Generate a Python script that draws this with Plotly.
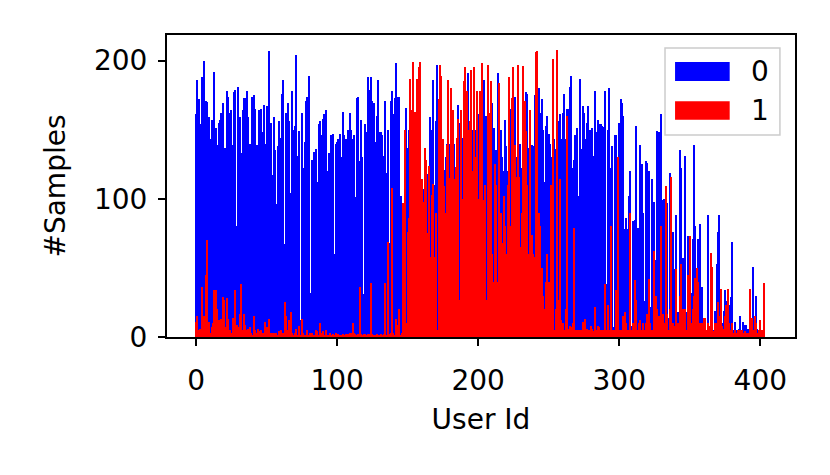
import plotly.graph_objects as go

# samples per user, label 0 (blue) and label 1 (red)
user_ids = list(range(404))

samples_0 = [
    161, 186, 172, 154, 188, 185, 200, 171, 170, 159,  # 0
    143, 157, 148, 192, 151, 139, 155, 157, 162, 169,
    137, 137, 178, 174, 162, 164, 139, 177, 179, 80,
    181, 159, 133, 164, 173, 173, 178, 159, 140, 43,
    174, 175, 165, 139, 93, 164, 165, 148, 168,
    140, 167, 146, 207, 155, 117, 159, 135, 96, 138,  # 49
    156, 144, 176, 186, 67, 162, 169, 156, 104, 178,
    150, 153, 204, 131, 149, 12, 162, 122, 141, 171,
    174, 189, 32, 128, 104, 134, 136, 112, 154, 156,
    146, 158, 161, 164, 120, 133, 26, 146, 147, 60, 140,
    141, 143, 147, 130, 163, 146, 143, 136, 150, 162,  # 100
    150, 143, 146, 101, 173, 174, 127, 157, 130, 31,
    154, 148, 188, 179, 188, 171, 169, 141, 160, 186,
    148, 148, 146, 131, 171, 119, 150, 68, 171, 178,
    161, 173, 198, 174, 174, 102, 97, 97, 150, 166, 137,
    150, 127, 140, 130, 120, 148, 120, 130, 110, 100,  # 151
    107, 120, 125, 118, 100, 159, 150, 186, 110, 156,
    197, 130, 168, 120, 110, 121, 130, 140, 157, 140,
    150, 160, 140, 93, 104, 168, 155, 140, 144, 150,
    175, 161, 191, 140, 130, 150, 140, 150, 160, 161, 150,
    140, 150, 186, 160, 160, 150, 140, 150, 169, 151,  # 202
    135, 135, 191, 150, 150, 130, 120, 157, 138, 120,
    140, 165, 150, 140, 174, 130, 150, 140, 140, 122,
    150, 150, 177, 176, 137, 150, 139, 138, 175, 150,
    140, 180, 162, 172, 150, 112, 153, 160, 147, 140, 130,
    150, 143, 136, 130, 156, 161, 143, 162, 176, 143,  # 253
    165, 165, 181, 189, 122, 128, 146, 151, 102, 187,
    136, 167, 162, 143, 155, 167, 150, 137, 151, 131,
    178, 148, 157, 154, 154, 153, 152, 178, 38, 150, 180,
    122, 138, 7, 146, 146, 100, 155, 172, 169, 160,
    78, 86, 78, 102, 120, 8, 84, 85, 153, 79,  # 304
    67, 139, 125, 90, 26, 127, 126, 120, 22, 114,
    40, 98, 56, 149, 148, 137, 161, 99, 100, 109,
    97, 14, 119, 116, 76, 49, 88, 9, 18, 135,
    122, 57, 36, 131, 18, 73, 73, 32, 71, 139, 80,
    50, 71, 82, 32, 36, 9, 14, 5, 88, 5,  # 355
    40, 30, 5, 19, 53, 76, 88, 20, 10, 19,
    34, 26, 20, 23, 29, 69, 5, 11, 5, 3,
    6, 15, 4, 11, 9, 9, 6, 5, 8, 5,
    51, 5, 30, 6, 5, 5, 5, 5, 5,
]

samples_1 = [
    11, 15, 5, 6, 36, 9, 15, 45, 70, 11,  # 0
    3, 7, 10, 34, 34, 20, 12, 5, 13, 29,
    27, 7, 28, 13, 5, 3, 14, 3, 34, 9,
    7, 17, 38, 5, 17, 9, 5, 6, 7, 3,
    1, 15, 5, 3, 6, 4, 5, 3, 3,
    11, 7, 3, 13, 3, 3, 3, 1, 3, 1,  # 49
    4, 5, 1, 3, 25, 15, 5, 12, 18, 3,
    1, 3, 6, 1, 8, 1, 13, 3, 1, 1,
    5, 1, 3, 3, 1, 1, 5, 4, 1, 10,
    3, 4, 1, 5, 1, 1, 3, 1, 2, 1, 3,
    1, 2, 1, 1, 2, 1, 2, 1, 2, 3,  # 100
    3, 10, 3, 2, 1, 2, 36, 2, 1, 2,
    2, 1, 2, 2, 39, 2, 1, 1, 2, 1,
    1, 2, 1, 2, 39, 1, 69, 2, 3, 108,
    3, 1, 13, 9, 20, 1, 3, 97, 150, 10, 76,
    86, 187, 164, 199, 163, 98, 187, 195, 199, 114,  # 151
    98, 137, 128, 75, 124, 58, 103, 111, 58, 90,
    5, 172, 197, 189, 143, 109, 90, 139, 186, 115,
    180, 164, 114, 123, 144, 158, 27, 164, 100, 185,
    195, 178, 150, 156, 193, 120, 195, 130, 178, 100, 178,
    117, 198, 99, 110, 27, 197, 162, 185, 60, 40,  # 202
    125, 110, 40, 184, 90, 68, 102, 80, 60, 110,
    188, 80, 173, 195, 139, 116, 197, 116, 65, 90,
    196, 171, 149, 110, 60, 164, 74, 60, 58, 206,
    207, 90, 80, 50, 30, 20, 40, 60, 40, 30, 110,
    201, 5, 20, 208, 27, 114, 12, 10, 5, 20,  # 253
    160, 6, 8, 7, 10, 79, 5, 5, 5, 5,
    5, 11, 5, 13, 6, 5, 5, 8, 6, 4,
    22, 5, 8, 7, 5, 5, 5, 38, 5, 23, 5,
    80, 5, 5, 5, 34, 130, 5, 5, 5, 15,
    18, 10, 5, 5, 90, 5, 10, 41, 27, 5,  # 304
    10, 12, 5, 10, 5, 10, 17, 42, 10, 5,
    5, 62, 30, 20, 15, 10, 80, 17, 10, 109,
    17, 5, 20, 116, 10, 8, 49, 5, 10, 30,
    53, 20, 15, 20, 5, 45, 73, 10, 20, 30, 43,
    50, 40, 10, 5, 10, 14, 14, 5, 10, 8,  # 355
    61, 51, 4, 10, 10, 25, 15, 35, 8, 6,
    15, 23, 35, 10, 5, 10, 3, 5, 3, 5,
    3, 5, 5, 3, 4, 3, 3, 3, 35, 14,
    5, 15, 10, 3, 5, 12, 5, 3, 39,
]

legend_labels = ["0", "1"]
colors = ["blue", "red"]

fig = go.Figure()
for vals, name, col in zip([samples_0, samples_1], legend_labels, colors):
    fig.add_trace(go.Bar(x=user_ids, y=vals, name=name, width=0.8,
                         marker=dict(color=col, line=dict(width=0)),
                         showlegend=False))

FS = 28
axis_style = dict(showline=True, linecolor="black", linewidth=2, mirror=True,
                  ticks="outside", ticklen=7, tickwidth=1.8, tickcolor="black",
                  showgrid=False, zeroline=False,
                  tickfont=dict(size=FS, color="black"),
                  title_font=dict(size=FS, color="black"))

# page body adds an 8px margin, so the figure is a bit smaller than the window
fig.update_layout(
    width=822, height=467,
    margin=dict(l=159, r=35, t=27, b=138),
    paper_bgcolor="white", plot_bgcolor="white",
    font=dict(family="DejaVu Sans", color="black"),
    barmode="overlay", bargap=0,
    xaxis=dict(range=[-20.6, 424.6], tickvals=[0, 100, 200, 300, 400],
               ticklabelstandoff=10,
               title=dict(text="User Id", standoff=14), **axis_style),
    yaxis=dict(range=[0, 218.5], tickvals=[0, 100, 200],
               ticklabelstandoff=5,
               title=dict(text="#Samples", standoff=20), **axis_style),
)

# matplotlib-style legend with wide colour patches
fig.add_shape(type="rect", xref="paper", yref="paper", x0=0.793, x1=0.976, y0=0.669, y1=0.957,
              line=dict(color="#cccccc", width=1.5), fillcolor="rgba(255,255,255,0.8)")
patch_y = [(0.848, 0.911), (0.719, 0.781)]
for (y0, y1), name, col in zip(patch_y, legend_labels, colors):
    fig.add_shape(type="rect", xref="paper", yref="paper", x0=0.809, x1=0.896, y0=y0, y1=y1,
                  line=dict(width=0), fillcolor=col)
    fig.add_annotation(xref="paper", yref="paper", x=0.944, y=(y0 + y1) / 2, text=name,
                       xanchor="center", yanchor="middle", showarrow=False,
                       font=dict(size=FS, color="black"))

fig.write_html("out.html")
